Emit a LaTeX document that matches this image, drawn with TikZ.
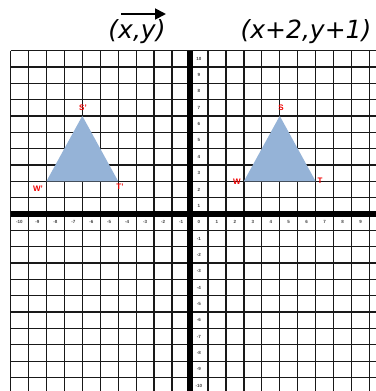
\documentclass[tikz,border=0pt]{standalone}
\usepackage{fontspec}
\setmainfont{Liberation Sans}
\newfontfamily\titlefont{DejaVu Sans}
\usetikzlibrary{arrows.meta}
\definecolor{trifill}{RGB}{149,179,215}
\definecolor{lblred}{RGB}{240,0,0}
\begin{document}
\begin{tikzpicture}[x=1pt,y=-1pt,
  gridline/.style={black!90,line width=1.3pt},
  axisline/.style={black,line width=5.5pt},
  ticklbl/.style={font=\bfseries\fontsize{4.5}{4.5}\selectfont,inner sep=0pt,text=black!75},
  ptlbl/.style={text=lblred,font=\bfseries\fontsize{8}{8}\selectfont,inner sep=0pt},
  titlelbl/.style={font=\titlefont\itshape\fontsize{25}{25}\selectfont,inner sep=0pt}]
\useasboundingbox (0,0) rectangle (375,391);
\fill[white] (0,0) rectangle (375,391);
\begin{scope}[shift={(190pt,-214pt)},x=17.95pt,y=16.35pt]
  \foreach \i in {-10,...,10} \draw[gridline] (\i,10) -- (\i,-10.9);
  \foreach \j in {-10,...,10} \draw[gridline] (-10,\j) -- (10.4,\j);
  \draw[axisline] (-10,0) -- (10.4,0);
  \draw[axisline] (0,10) -- (0,-10.9);
  \foreach \i in {-10,...,10} \node[ticklbl] (xl\i) at (\i+0.5,-0.5) {\i};
  \foreach \j in {1,...,10} \node[ticklbl] (yp\j) at (0.5,\j-0.5) {\j};
  \foreach \j in {1,...,10} \node[ticklbl] (yn\j) at (0.5,-\j-0.5) {-\j};
  \coordinate (W1) at (-8,2);
  \coordinate (S1) at (-6,6);
  \coordinate (T1) at (-4,2);
  \coordinate (W2) at (3,2);
  \coordinate (S2) at (5,6);
  \coordinate (T2) at (7,2);
  \fill[trifill] (W1) -- (S1) -- (T1) -- cycle;
  \fill[trifill] (W2) -- (S2) -- (T2) -- cycle;
\end{scope}
\node[ptlbl] (s1l) at (83,108) {S’};
\node[ptlbl] (w1l) at (38,189) {W’};
\node[ptlbl] (t1l) at (120,187) {T’};
\node[ptlbl] (s2l) at (281,108) {S};
\node[ptlbl] (w2l) at (237,182) {W};
\node[ptlbl] (t2l) at (320,181) {T};
\node[titlelbl] (t1) at (137,32) {(x,y)};
\node[titlelbl] (t2) at (306,32) {(x+2,y+1)};
\coordinate (a1) at (121,14);
\coordinate (a2) at (166,14);
\draw[line width=1.8pt,-{Triangle[length=11pt,width=11pt]}] (a1) -- (a2);
\end{tikzpicture}
\end{document}
